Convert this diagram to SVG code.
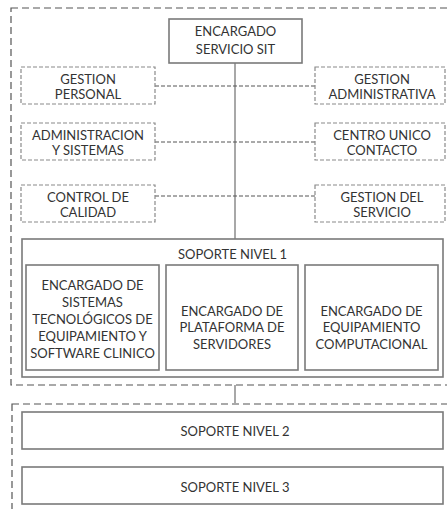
<svg xmlns="http://www.w3.org/2000/svg" width="447" height="509" viewBox="0 0 447 509">
  <style>
    .bg { fill: #ffffff; }
    .frame { fill: none; stroke: #555555; stroke-width: 1.2; stroke-dasharray: 7 4; }
    .solid { fill: #ffffff; stroke: #7a7a7a; stroke-width: 1.6; }
    .dbox { fill: #ffffff; stroke: #8a8a8a; stroke-width: 1.2; stroke-dasharray: 4 2; }
    .link { fill: none; stroke: #555555; stroke-width: 1; stroke-dasharray: 4 2; }
    .trunk { fill: none; stroke: #a8a8a8; stroke-width: 2; }
    text { font-family: Lato, "Liberation Sans", sans-serif; font-size: 13px; fill: #333333; text-anchor: middle; }
  </style>

  <rect class="bg" x="0" y="0" width="447" height="509"/>

  <!-- dashed group frames -->
  <rect class="frame" x="11" y="8" width="450" height="377"/>
  <rect class="frame" x="12" y="404" width="450" height="120"/>

  <!-- connectors -->
  <g id="connectors">
    <line class="trunk" x1="235" y1="63" x2="235" y2="239"/>
    <line class="trunk" x1="235" y1="385" x2="235" y2="404"/>
    <line class="link" x1="155" y1="86" x2="315" y2="86"/>
    <line class="link" x1="155" y1="142" x2="315" y2="142"/>
    <line class="link" x1="155" y1="196" x2="315" y2="196"/>
  </g>

  <g id="encargado-sit">
    <rect class="solid" x="169" y="19" width="133" height="44"/>
    <text x="235.5" y="36">ENCARGADO</text>
    <text x="235.5" y="54">SERVICIO SIT</text>
  </g>

  <g id="gestion-personal">
    <rect class="dbox" x="21" y="67" width="134" height="37"/>
    <text x="88" y="84">GESTION</text>
    <text x="88" y="99">PERSONAL</text>
  </g>
  <g id="gestion-administrativa">
    <rect class="dbox" x="315" y="67" width="130" height="37"/>
    <text x="382" y="84">GESTION</text>
    <text x="382" y="99">ADMINISTRATIVA</text>
  </g>

  <g id="administracion-sistemas">
    <rect class="dbox" x="21" y="123" width="134" height="37"/>
    <text x="88" y="140">ADMINISTRACION</text>
    <text x="88" y="155">Y SISTEMAS</text>
  </g>
  <g id="centro-unico-contacto">
    <rect class="dbox" x="315" y="123" width="130" height="37"/>
    <text x="382" y="140">CENTRO UNICO</text>
    <text x="382" y="155">CONTACTO</text>
  </g>

  <g id="control-calidad">
    <rect class="dbox" x="21" y="185" width="134" height="37"/>
    <text x="88" y="202">CONTROL DE</text>
    <text x="88" y="217">CALIDAD</text>
  </g>
  <g id="gestion-servicio">
    <rect class="dbox" x="315" y="185" width="130" height="37"/>
    <text x="382" y="202">GESTION DEL</text>
    <text x="382" y="217">SERVICIO</text>
  </g>

  <g id="soporte-nivel-1">
    <rect class="solid" x="22" y="239" width="421" height="138"/>
    <text x="232.5" y="259">SOPORTE NIVEL 1</text>
  </g>

  <g id="sistemas-tecnologicos">
    <rect class="solid" x="26" y="265" width="133" height="105"/>
    <text x="92.5" y="290">ENCARGADO DE</text>
    <text x="92.5" y="307">SISTEMAS</text>
    <text x="92.5" y="324">TECNOLÓGICOS DE</text>
    <text x="92.5" y="341">EQUIPAMIENTO Y</text>
    <text x="92.5" y="358">SOFTWARE CLINICO</text>
  </g>
  <g id="plataforma-servidores">
    <rect class="solid" x="166" y="265" width="132" height="105"/>
    <text x="232" y="316">ENCARGADO DE</text>
    <text x="232" y="332">PLATAFORMA DE</text>
    <text x="232" y="349">SERVIDORES</text>
  </g>
  <g id="equipamiento-computacional">
    <rect class="solid" x="305" y="265" width="133" height="105"/>
    <text x="371.5" y="316">ENCARGADO DE</text>
    <text x="371.5" y="332">EQUIPAMIENTO</text>
    <text x="371.5" y="349">COMPUTACIONAL</text>
  </g>

  <g id="soporte-nivel-2">
    <rect class="solid" x="22" y="412" width="421" height="37"/>
    <text x="235" y="436">SOPORTE NIVEL 2</text>
  </g>
  <g id="soporte-nivel-3">
    <rect class="solid" x="22" y="467" width="421" height="37"/>
    <text x="235" y="492">SOPORTE NIVEL 3</text>
  </g>
</svg>
